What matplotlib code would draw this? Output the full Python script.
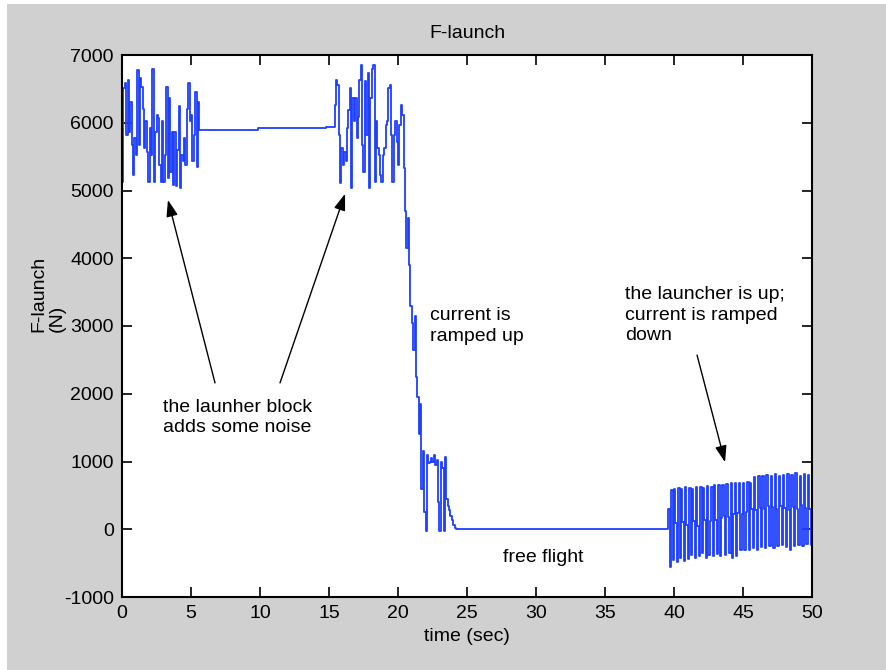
import numpy as np
import matplotlib.pyplot as plt
from matplotlib.patches import Rectangle

plt.rcParams['font.family'] = ['Liberation Sans', 'DejaVu Sans']
plt.rcParams['axes.unicode_minus'] = False

# launcher block noise, first burst (t = 0 .. 5.6, dt = 0.1)
noise1_t = np.round(np.arange(0.0, 5.65, 0.1), 2)
noise1_f = [5130, 6510, 6580, 5820, 6630, 5870, 6310, 5670, 5230, 5770,
            5520, 6780, 5670, 6660, 6530, 6210, 5620, 6020, 5570, 5130,
            5920, 5520, 6800, 5130, 5870, 6110, 6070, 5380, 5130, 6020,
            5130, 5520, 6530, 5180, 6360, 5280, 5870, 5080, 5870, 5060,
            5600, 6240, 5030, 5520, 5430, 5770, 5380, 6210, 6580, 6020,
            6110, 5430, 5820, 6460, 5350, 6310, 5890]

# quiet part between the bursts
quiet_t = [5.7, 9.85, 14.8]
quiet_f = [5893, 5918, 5942]

# second burst (t = 15.4 .. 20.4)
noise2_t = np.round(np.arange(15.4, 20.45, 0.1), 2)
noise2_f = [6260, 6630, 6560, 5820, 5110, 5620, 5380, 5570, 5430, 5920,
            6190, 6510, 5030, 6360, 6020, 6360, 5770, 6090, 6630, 6850,
            5670, 5280, 6610, 5820, 6730, 5030, 6360, 6800, 6850, 5130,
            6020, 5620, 5520, 5230, 5130, 5520, 5620, 5970, 6020, 6510,
            6560, 5820, 5130, 5820, 6020, 5720, 5380, 5970, 6260, 6110,
            5330]

# current ramped up (t = 20.5 .. 24.2)
ramp_t = np.round(np.arange(20.5, 24.25, 0.1), 2)
ramp_f = [4700, 4150, 4600, 3900, 3300, 3050, 2650, 3150, 2250, 1950,
          1400, 1850, 600, 1150, 250, -30, 1100, 980, 1000, 1050,
          1000, 1100, 950, 1020, 400, -20, 1000, 900, -20, 1070,
          450, 350, 280, 200, 130, 70, 20, 0]

# free flight
flight_t = [24.3, 39.5]
flight_f = [0, 0]

# launcher up, current ramped down (t = 39.6 .. 50.0)
noise3_t = np.round(np.arange(39.6, 50.05, 0.1), 2)
noise3_f = [300, -550, 580, -450,
            600, 90, -480, 610, -420, 600, 100, -470, 620, 60,
            -440, 610, -380, 600, 120, -430, 630, 50, -400, 620,
            -350, 610, 130, -420, 640, -380, 120, 630, -390, 650,
            140, -360, 650, -400, 170, 660, 200, -380, 670, 180,
            -350, 680, -420, 220, 690, -400, 240, 680, -300, 230,
            690, -310, 260, 700, -300, 680, 300, -280, 770, 290,
            -300, 790, 320, -260, 780, 300, -270, 800, 350, -250,
            790, 330, -280, 810, 300, -240, 790, 340, -230, 800,
            320, -260, 820, 280, -300, 800, 330, -250, 830, 300,
            -230, 780, 360, -240, 810, 320, -220, 800, 300, -230,
            790]

t = np.concatenate([noise1_t, quiet_t, noise2_t, ramp_t, flight_t, noise3_t])
f = np.concatenate([noise1_f, quiet_f, noise2_f, ramp_f, flight_f, noise3_f])

fig = plt.figure(figsize=(8.86, 6.70), dpi=100, facecolor='white')
fig.patches.append(Rectangle((7 / 886, 0), 1, 1 - 4 / 670, transform=fig.transFigure,
                             facecolor='#d0d0d0', edgecolor='none', zorder=-10))
ax = fig.add_axes([122 / 886, 1 - 597 / 670, 690 / 886, 542 / 670])
ax.set_facecolor('white')

# matlab-like stairs look of the sampled signal
ax.plot(t, f, color='#1f3fff', lw=1.3, drawstyle='steps-post')

ax.set_xlim(0, 50)
ax.set_ylim(-1000, 7000)
ax.set_xticks(np.arange(0, 51, 5))
ax.set_yticks(np.arange(-1000, 7001, 1000))
ax.tick_params(direction='in', length=7, width=1.2, top=True, right=True,
               labelsize=14, pad=6, colors='black')
for s in ax.spines.values():
    s.set_linewidth(1.5)

ax.set_title('F-launch', fontsize=14, pad=12)
ax.set_xlabel('time (sec)', fontsize=14, labelpad=4)
ax.text(-0.107, 0.559, 'F-launch\n(N)', transform=ax.transAxes, rotation=90,
        ha='center', va='center', multialignment='left', fontsize=14,
        linespacing=1.1)

txt = dict(fontsize=14, linespacing=1.25, va='center', ha='left')
ax.text(2.97, 1650, 'the launher block\nadds some noise', **txt)
ax.text(22.3, 3000, 'current is\nramped up', **txt)
ax.text(27.6, -410, 'free flight', **txt)
ax.text(36.45, 3160, 'the launcher is up;\ncurrent is ramped\ndown', **txt)

arr = dict(arrowstyle='-|>,head_length=1.0,head_width=0.35', color='black',
           lw=1.0, shrinkA=0, shrinkB=0)
ax.annotate('', xy=(3.33, 4860), xytext=(6.74, 2160), arrowprops=arr)
ax.annotate('', xy=(16.16, 4950), xytext=(11.45, 2160), arrowprops=arr)
ax.annotate('', xy=(43.7, 990), xytext=(41.67, 2570), arrowprops=arr)

fig.savefig('out.png', dpi=100, facecolor=fig.get_facecolor())
